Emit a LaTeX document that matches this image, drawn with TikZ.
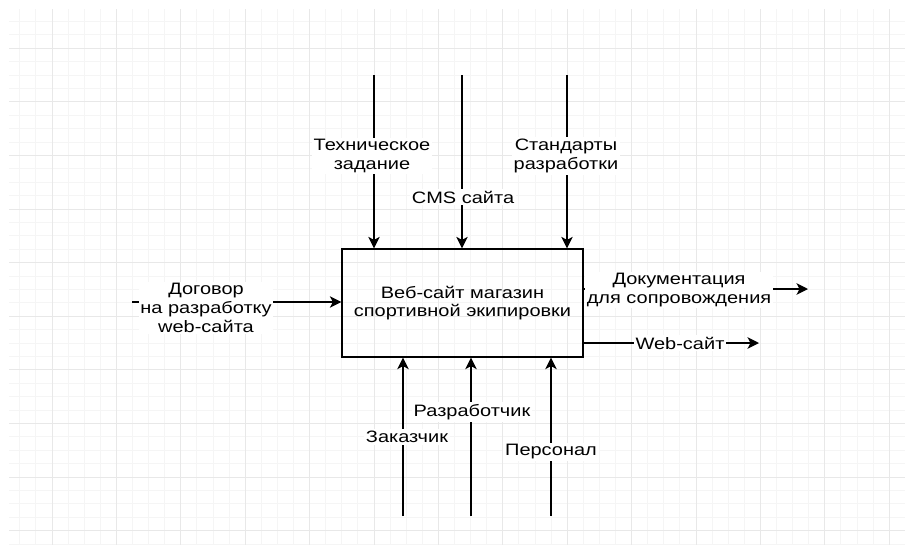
\documentclass[tikz,border=0pt]{standalone}
\usepackage{fontspec}
\setmainfont[FakeStretch=1.21]{Liberation Sans}
\usetikzlibrary{arrows.meta}
\definecolor{gridminor}{HTML}{F5F5F5}
\definecolor{gridmajor}{HTML}{E8E8E8}
\tikzset{
    idefbox/.style={draw, line width=0.75pt, minimum width=4.82cm, minimum height=2.16cm, align=center, inner sep=0pt},
    flow/.style={-{Stealth[length=2.3mm,width=2.3mm,inset=0.6mm]}, line width=0.75pt},
    lbl/.style={fill=white, inner sep=1pt, align=center},
}
\begin{document}
\begin{tikzpicture}[x=0.02cm, y=-0.02cm, font=\fontsize{9.4}{10.6}\selectfont]
        \useasboundingbox (0, 0) rectangle (905, 545);

        \foreach \k in {-2,...,52} \draw[gridminor, line width=0.5pt] ({52+16.1*\k}, 9) to ({52+16.1*\k}, 545);
        \foreach \k in {-2,...,37} \draw[gridminor, line width=0.5pt] (9, {48.3+13.4*\k}) to (905, {48.3+13.4*\k});
        \foreach \k in {0,...,13} \draw[gridmajor, line width=0.5pt] ({52+64.4*\k}, 9) to ({52+64.4*\k}, 545);
        \foreach \k in {0,...,9} \draw[gridmajor, line width=0.5pt] (9, {48.3+53.6*\k}) to (905, {48.3+53.6*\k});

        \node[idefbox] (site) at (462.5, 303) {Веб-сайт магазин\\спортивной экипировки};

        \coordinate (ctl1) at (374, 75);
        \coordinate (ctl2) at (462, 75);
        \coordinate (ctl3) at (567, 75);
            \draw[flow] (ctl1) to (ctl1 |- site.north);
            \draw[flow] (ctl2) to (ctl2 |- site.north);
            \draw[flow] (ctl3) to (ctl3 |- site.north);

        \coordinate (in1) at (132, 302);
            \draw[flow] (in1) to (in1 -| site.west);

        \coordinate (out1) at (808, 289);
        \coordinate (out2) at (759, 343);
            \draw[flow] (out1 -| site.east) to (out1);
            \draw[flow] (out2 -| site.east) to (out2);

        \coordinate (mech1) at (403, 516);
        \coordinate (mech2) at (471, 516);
        \coordinate (mech3) at (551, 516);
            \draw[flow] (mech1) to (mech1 |- site.south);
            \draw[flow] (mech2) to (mech2 |- site.south);
            \draw[flow] (mech3) to (mech3 |- site.south);


        \node[lbl] (tz) at (372, 156) {Техническое\\задание};
        \node[lbl] (cms) at (463, 197) {CMS сайта};
        \node[lbl] (std) at (566, 156) {Стандарты\\разработки};

        \node[lbl] (dog) at (206, 308) {Договор\\на разработку\\web-сайта};

        \node[lbl] (doc) at (679, 290) {Документация\\для сопровождения};
        \node[lbl] (web) at (680, 343) {Web-сайт};

        \node[lbl] (zak) at (407, 437) {Заказчик};
        \node[lbl] (razr) at (472, 412) {Разработчик};
        \node[lbl] (pers) at (551, 452) {Персонал};
    \end{tikzpicture}
\end{document}
